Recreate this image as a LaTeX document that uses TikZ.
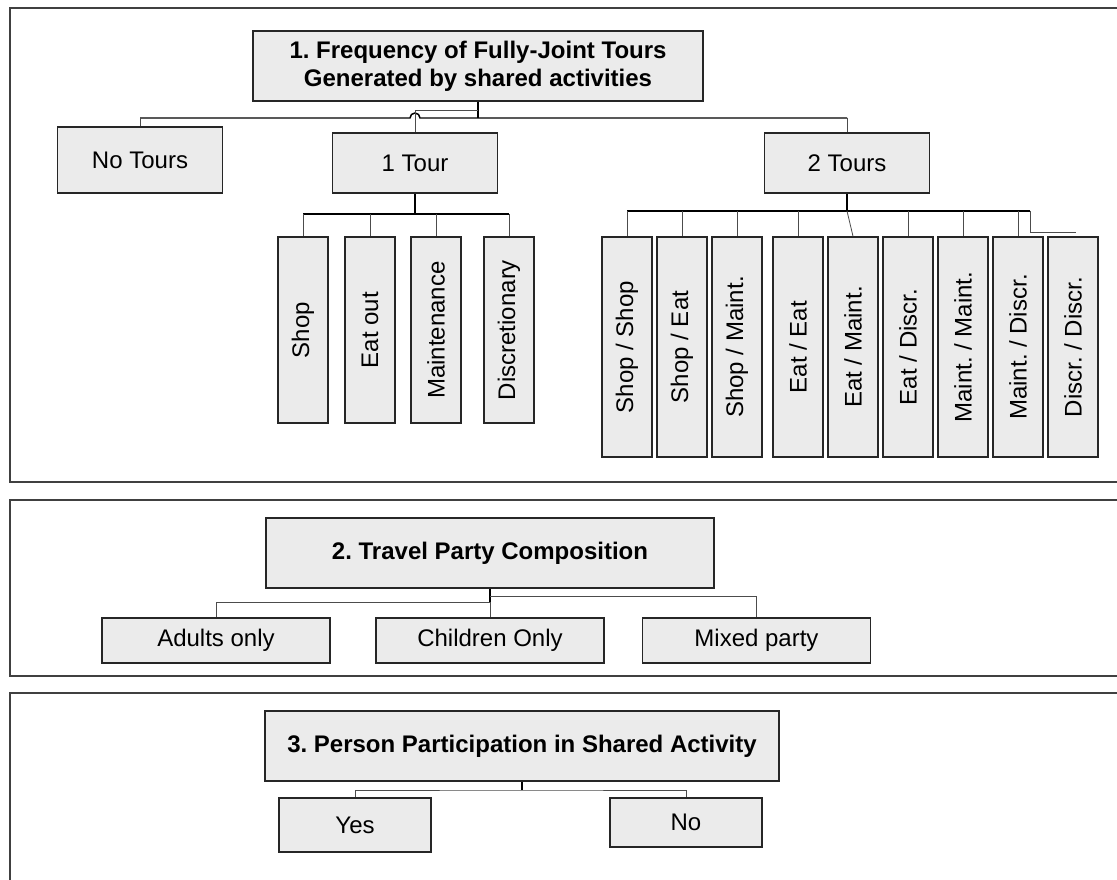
\documentclass[tikz,border=0pt]{standalone}
\usepackage{fontspec}
\setmainfont{Liberation Sans}
\frenchspacing
\usetikzlibrary{positioning}

\begin{document}
\begin{tikzpicture}[x=0.75pt,y=-0.75pt,
		box/.style={draw=black!85,line width=1.1pt,fill=black!8,inner sep=0pt,
			align=center,font=\fontsize{18}{21}\selectfont},
		head/.style={box,font=\fontsize{18}{21}\selectfont\bfseries,minimum height=52.5pt},
		tall/.style={box,rotate=90,minimum height=37.5pt},
		panel/.style={draw=black!75,line width=1.1pt},
		bus/.style={line width=1.1pt},
		drop/.style={line width=0.6pt,draw=black!70}]
		\useasboundingbox (0,0) rectangle (1117,880);
		\clip (0,0) rectangle (1117,880);

		% the three panels, open to the right
		\draw[panel] (1130,8) -- (10,8) -- (10,482) -- (1130,482);
		\draw[panel] (1130,500) -- (10,500) -- (10,676) -- (1130,676);
		\draw[panel] (1130,693) -- (10,693) -- (10,900);

		% 1. frequency
		\node[head,minimum width=337.5pt] (freq) at (478,66) {1. Frequency of Fully-Joint Tours\\Generated by shared activities};
		\node[box,minimum width=123.75pt,minimum height=49.5pt] (none) at (140,160) {No Tours};
		\node[box,minimum width=123.75pt,minimum height=45pt]   (one)  at (415,163) {1 Tour};
		\node[box,minimum width=123.75pt,minimum height=45pt]   (two)  at (847,163) {2 Tours};

		\coordinate (j0) at (478,110);
		\coordinate (j1) at (478,118);
		\draw[bus] (freq) -- (j1);
		\draw[bus] (none.north |- j1) -- ([xshift=-3.75pt]one.north |- j1)
			arc[start angle=180,end angle=0,radius=3.75pt] -- (two.north |- j1);
		\draw[drop] (none.north |- j1) -- (none.north);
		\draw[drop] (two.north |- j1) -- (two.north);
		\draw[drop] (j0) -- (one.north |- j0) -- (one.north);

		% one tour
		\foreach \x/\n/\t in {303/s1/Shop,370/s2/Eat out,436/s3/Maintenance,509/s4/Discretionary}
			\node[tall,minimum width=139.5pt] (\n) at (\x,330) {\t};
		\coordinate (j2) at (415,214);
		\draw[bus] (one) -- (j2);
		\draw[bus] (s1 |- j2) -- (s4 |- j2);
		\foreach \n in {s1,s2,s3,s4}
			\draw[drop] (\n |- j2) -- (\n.east);

		% two tours
		\foreach \x/\n/\t in {627/p1/{Shop / Shop},682/p2/{Shop / Eat},737/p3/{Shop / Maint.},
				798/p4/{Eat / Eat},853/p5/{Eat / Maint.},908/p6/{Eat / Discr.},
				963/p7/{Maint. / Maint.},1018/p8/{Maint. / Discr.},1073/p9/{Discr. / Discr.}}
			\node[tall,minimum width=165pt] (\n) at (\x,347) {\t};
		\coordinate (j3) at (847,211);
		\coordinate (j4) at (1030,211);
		\coordinate (stub) at (1076,232);
		\draw[bus] (two) -- (j3);
		\draw[bus] (p1 |- j3) -- (j4);
		\foreach \n in {p1,p2,p3,p4,p6,p7,p8}
			\draw[drop] (\n |- j3) -- (\n.east);
		\draw[drop] (j3) -- (p5.east);
		\draw[drop] (j4) |- (stub);

		% 2. travel party
		\node[head,minimum width=336pt] (party) at (490,553) {2. Travel Party Composition};
		\node[box,minimum width=171pt,minimum height=33.75pt] (adults)   at (216,640.5) {Adults only};
		\node[box,minimum width=171pt,minimum height=33.75pt] (children) at (490,640.5) {Children Only};
		\node[box,minimum width=171pt,minimum height=33.75pt] (mixed)    at (756.5,640.5) {Mixed party};
		\coordinate (k1) at (490,602);
		\coordinate (k2) at (490,596);
		\draw[bus] (party) -- (k1);
		\draw[drop] (adults.north) |- (k1);
		\draw[drop] (mixed.north) |- (k2);
		\draw[drop] (k1) -- (children.north);

		% 3. participation
		\node[head,minimum width=385.5pt] (join) at (522,746) {3. Person Participation in Shared Activity};
		\node[box,minimum width=114pt,minimum height=40.5pt]  (yes) at (355,825) {Yes};
		\node[box,minimum width=114pt,minimum height=36.75pt] (no)  at (686,822.5) {No};
		\coordinate (m1) at (522,790);
		\draw[bus] (join) -- (m1);
		\draw[drop] (yes.north) |- (m1) -| (no.north);
	\end{tikzpicture}
\end{document}
